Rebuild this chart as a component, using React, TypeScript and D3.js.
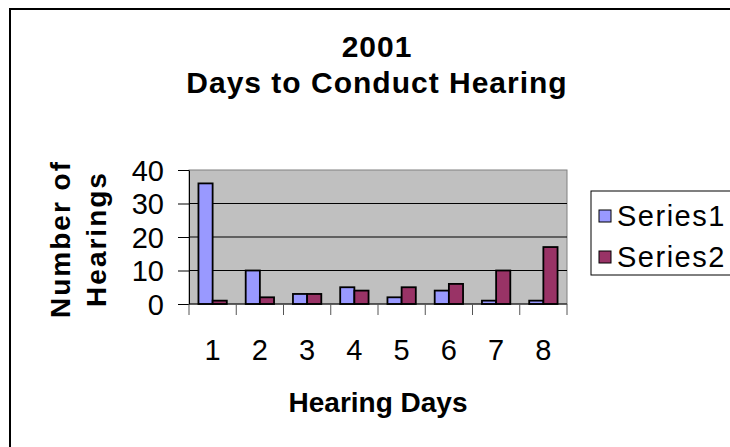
import { useEffect, useRef } from 'react';
import * as d3 from 'd3';

const categories = ['1', '2', '3', '4', '5', '6', '7', '8'];
const series1 = [36, 10, 3, 5, 2, 4, 1, 1];
const series2 = [1, 2, 3, 4, 5, 6, 10, 17];
const seriesNames = ['Series1', 'Series2'];
const seriesColors = ['#9999ff', '#993366'];
const yTicks = [0, 10, 20, 30, 40];
const titleLines = ['2001', 'Days to Conduct Hearing'];
const yTitleLines = ['Number of', 'Hearings'];
const xTitle = 'Hearing Days';

const FONT = '"Liberation Sans", Arial, sans-serif';

export default function App() {
  const svgRef = useRef<SVGSVGElement>(null);

  useEffect(() => {
    if (!svgRef.current) return;
    const svg = d3.select(svgRef.current);
    svg.selectAll('*').remove();

    const width = 730;
    const height = 447;
    const plot = { left: 189, right: 567, top: 170, bottom: 304 };

    svg.attr('width', width).attr('height', height).style('font-family', FONT);

    // chart border (runs off the right and bottom edges)
    svg.append('rect')
      .attr('x', 10).attr('y', 9)
      .attr('width', 900).attr('height', 900)
      .attr('fill', 'white')
      .attr('stroke', 'black')
      .attr('stroke-width', 2);

    const x = d3.scaleBand()
      .domain(categories)
      .range([plot.left, plot.right])
      .paddingInner(0);

    const xs = d3.scaleBand()
      .domain(seriesNames)
      .range([x.bandwidth() * 0.2, x.bandwidth() * 0.8]);

    const y = d3.scaleLinear()
      .domain([0, 40])
      .range([plot.bottom, plot.top]);

    // plot area
    svg.append('rect')
      .attr('x', plot.left).attr('y', plot.top)
      .attr('width', plot.right - plot.left)
      .attr('height', plot.bottom - plot.top)
      .attr('fill', '#c0c0c0')
      .attr('stroke', '#808080')
      .attr('stroke-width', 1);

    // gridlines
    svg.append('g')
      .selectAll('line')
      .data(yTicks.filter(t => t > 0 && t < 40))
      .enter()
      .append('line')
      .attr('x1', plot.left).attr('x2', plot.right)
      .attr('y1', d => y(d)).attr('y2', d => y(d))
      .attr('stroke', 'black')
      .attr('stroke-width', 1);

    // bars
    const data = categories.map((c, i) => ({ c, vals: [series1[i], series2[i]] }));
    const groups = svg.append('g')
      .selectAll('g')
      .data(data)
      .enter()
      .append('g')
      .attr('transform', d => `translate(${x(d.c)}, 0)`);

    groups.selectAll('rect')
      .data(d => d.vals.map((v, k) => ({ k, v })))
      .enter()
      .append('rect')
      .attr('x', d => xs(seriesNames[d.k]) || 0)
      .attr('y', d => y(d.v))
      .attr('width', xs.bandwidth())
      .attr('height', d => y(0) - y(d.v))
      .attr('fill', d => seriesColors[d.k])
      .attr('stroke', 'black')
      .attr('stroke-width', 1.8);

    // y axis
    const yAxis = svg.append('g')
      .attr('transform', `translate(${plot.left}, 0)`)
      .call(d3.axisLeft(y).tickValues(yTicks).tickSizeInner(11).tickSizeOuter(0).tickPadding(14));
    yAxis.select('.domain').attr('stroke', 'black');
    yAxis.selectAll('.tick line').attr('stroke', 'black');
    yAxis.selectAll('text')
      .attr('font-size', 29)
      .attr('font-family', FONT)
      .attr('fill', 'black')
      .attr('dy', '0.36em');

    // x axis line + boundary ticks
    svg.append('line')
      .attr('x1', plot.left).attr('x2', plot.right)
      .attr('y1', y(0)).attr('y2', y(0))
      .attr('stroke', 'black');

    const bounds = [...categories.map(c => x(c) || 0), plot.right];
    svg.append('g')
      .selectAll('line')
      .data(bounds)
      .enter()
      .append('line')
      .attr('x1', d => d).attr('x2', d => d)
      .attr('y1', y(0)).attr('y2', y(0) + 11)
      .attr('stroke', '#555');

    svg.append('g')
      .selectAll('text')
      .data(categories)
      .enter()
      .append('text')
      .attr('x', d => (x(d) || 0) + x.bandwidth() / 2)
      .attr('y', 360)
      .attr('text-anchor', 'middle')
      .attr('font-size', 29)
      .text(d => d);

    // titles
    svg.append('text')
      .attr('x', 377)
      .attr('y', 57)
      .attr('text-anchor', 'middle')
      .attr('font-size', 30)
      .attr('font-weight', 'bold')
      .attr('letter-spacing', 1)
      .selectAll('tspan')
      .data(titleLines)
      .enter()
      .append('tspan')
      .attr('x', 377)
      .attr('dy', (_, i) => (i === 0 ? 0 : 36))
      .text(d => d);

    svg.append('text')
      .attr('x', (plot.left + plot.right) / 2)
      .attr('y', 412)
      .attr('text-anchor', 'middle')
      .attr('font-size', 28)
      .attr('font-weight', 'bold')
      .text(xTitle);

    svg.append('text')
      .attr('transform', `translate(70, ${(plot.top + plot.bottom) / 2 + 2}) rotate(-90)`)
      .attr('text-anchor', 'middle')
      .attr('font-size', 28)
      .attr('font-weight', 'bold')
      .attr('letter-spacing', 2)
      .selectAll('tspan')
      .data(yTitleLines)
      .enter()
      .append('tspan')
      .attr('x', 0)
      .attr('dy', (_, i) => (i === 0 ? 0 : 36))
      .text(d => d);

    // legend
    const legend = svg.append('g');
    legend.append('rect')
      .attr('x', 591).attr('y', 191)
      .attr('width', 200).attr('height', 84)
      .attr('fill', 'white')
      .attr('stroke', 'black')
      .attr('stroke-width', 1);

    const items = legend.selectAll('g.item')
      .data(seriesNames)
      .enter()
      .append('g')
      .attr('class', 'item')
      .attr('transform', (_, i) => `translate(599, ${216 + i * 41})`);

    items.append('rect')
      .attr('x', 0).attr('y', -6)
      .attr('width', 12).attr('height', 12)
      .attr('fill', (_, i) => seriesColors[i])
      .attr('stroke', 'black')
      .attr('stroke-width', 1);

    items.append('text')
      .attr('x', 18)
      .attr('y', 10)
      .attr('font-size', 29)
      .attr('letter-spacing', 1.5)
      .text(d => d);
  }, []);

  return (
    <div style={{ position: 'absolute', left: 0, top: 0, width: 730, height: 447, overflow: 'hidden' }}>
      <svg ref={svgRef}></svg>
    </div>
  );
}
